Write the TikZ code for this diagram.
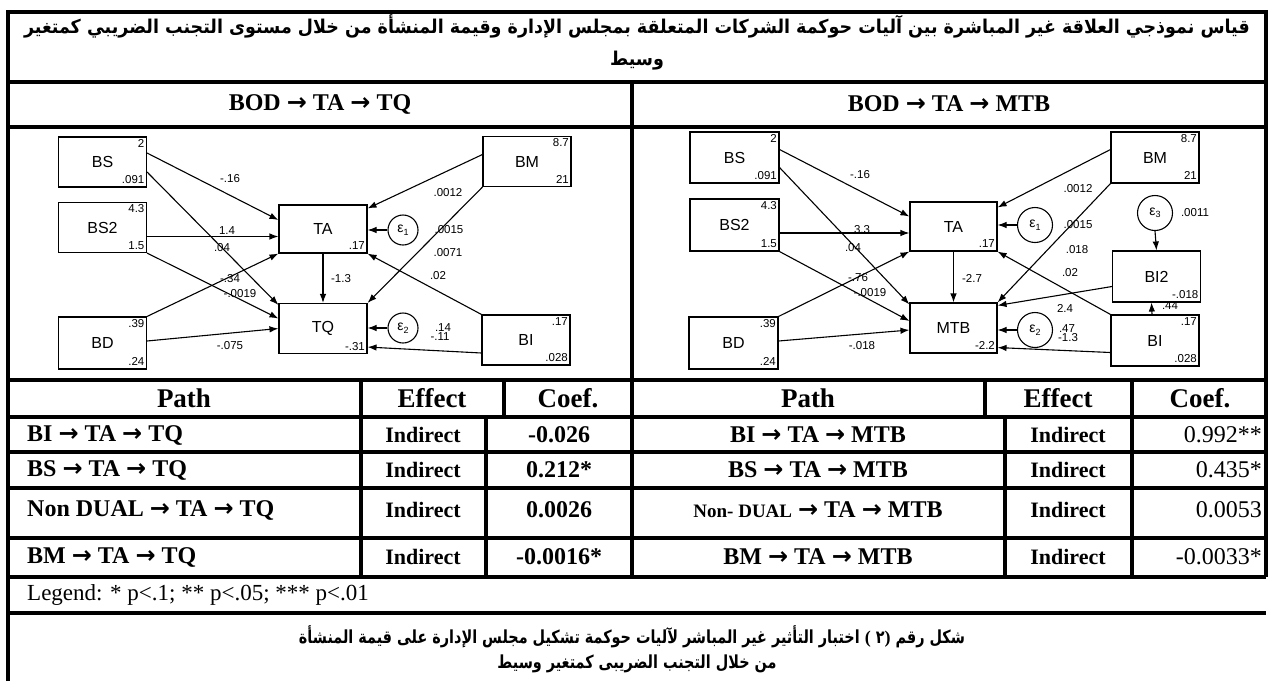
\documentclass[tikz,border=0pt]{standalone}
\usepackage{fontspec}
\setmainfont{Liberation Serif}
\newfontfamily\diafont{Liberation Sans}
\newfontfamily\arabicfont[Script=Arabic, FakeStretch=0.92]{DejaVu Sans}
\newfontfamily\capfont[Script=Arabic, FakeStretch=0.8]{DejaVu Sans}
\newfontfamily\arrowfont{DejaVu Sans}
\TeXXeTstate=1
\usetikzlibrary{arrows.meta}

% heavy arrow used in the path names
\newcommand\ra{{\arrowfont\bfseries →}}
% error term with index
\newcommand\eps[1]{ε\raisebox{-2.5pt}{\fontsize{9}{9}\selectfont #1}}
% numbers in the corners of a variable box
\newcommand\corners[3]{%
  \node[num, anchor=north east] (#1-t) at ([shift={(-2,2)}]#1.north east) {#2};
  \node[num, anchor=south east] (#1-b) at ([shift={(-2,-3)}]#1.south east) {#3};}

\begin{document}
\begin{tikzpicture}[x=1pt, y=-1pt,
    grid/.style={line width=3.5pt},
    varbox/.style={draw, line width=1.1pt, inner sep=0pt, minimum width=88pt,
      minimum height=50pt, font=\diafont\fontsize{16}{16}\selectfont},
    errc/.style={circle, draw, line width=1.1pt, inner sep=0pt,
      font=\diafont\fontsize{14}{14}\selectfont},
    num/.style={inner sep=0.5pt, font=\diafont\fontsize{11.5}{11.5}\selectfont},
    coef/.style={-{Latex[length=9pt,width=6.5pt]}, line width=1.1pt},
    cell/.style={inner sep=0pt, font=\bfseries\fontsize{24}{24}\selectfont},
    head/.style={inner sep=0pt, font=\bfseries\fontsize{27}{27}\selectfont},
    eff/.style={inner sep=0pt, font=\bfseries\fontsize{22}{22}\selectfont},
    arab/.style={inner sep=0pt, font=\arabicfont\bfseries\fontsize{19}{19}\selectfont},
    capt/.style={inner sep=0pt, font=\capfont\bfseries\fontsize{18}{18}\selectfont}]
\useasboundingbox (0,0) rectangle (1269,681);

% Table frame
\draw[grid] (8,681) -- (8,12) -- (1266,12) -- (1266,577);
\foreach \y in {82,127,380,417,452,488,538,577,613}
  \draw[grid] (8,\y) -- (1266,\y);
\draw[grid] (632,82) -- (632,577);
\draw[grid] (361,380) -- (361,577);
\draw[grid] (504,380) -- (504,417);
\draw[grid] (486,417) -- (486,577);
\draw[grid] (985,380) -- (985,417);
\draw[grid] (1005,417) -- (1005,577);
\draw[grid] (1132,380) -- (1132,577);

% Titles
\node[arab] (t1) at (637,26) {\beginR قياس نموذجي العلاقة غير المباشرة بين آليات حوكمة الشركات المتعلقة بمجلس الإدارة وقيمة المنشأة من خلال مستوى التجنب الضريبي كمتغير\endR};
\node[arab] (t2) at (637,61) {\beginR وسيط\endR};
\node[cell] (h1) at (320,104) {BOD \ra{} TA \ra{} TQ};
\node[cell] (h2) at (949,104) {BOD \ra{} TA \ra{} MTB};

% Left model
\begin{scope}[name prefix=l-]
  \node[varbox] (BS) at (102.5,162) {BS};
  \node[varbox] (BS2) at (102.5,227.5) {BS2};
  \node[varbox, minimum height=52pt] (BD) at (102.5,343) {BD};
  \node[varbox, minimum height=48pt] (TA) at (323,229) {TA};
  \node[varbox] (TQ) at (323,328.5) {TQ};
  \node[varbox] (BM) at (527,161.5) {BM};
  \node[varbox] (BI) at (526,340) {BI};
  \node[errc, minimum size=30pt] (e1) at (403,230) {\eps{1}};
  \node[errc, minimum size=30pt] (e2) at (403,328) {\eps{2}};
  \corners{BS}{2}{.091}
  \corners{BS2}{4.3}{1.5}
  \corners{BD}{.39}{.24}
  \corners{BM}{8.7}{21}
  \corners{BI}{.17}{.028}
  \node[num, anchor=south east] (TA-b) at ([shift={(-2,-3)}]TA.south east) {.17};
  \node[num, anchor=south east] (TQ-b) at ([shift={(-2,-3)}]TQ.south east) {-.31};

  \draw[coef] ([yshift=9pt]BS.east) -- ([yshift=9pt]TA.west);
  \draw[coef] ([yshift=-10pt]BS.east) -- ([yshift=-2pt]TQ.north west);
  \draw[coef] ([yshift=-9pt]BS2.east) -- ([yshift=-9pt]BS2.east -| TA.west);
  \draw[coef] (BS2.south east) -- ([yshift=10pt]TQ.west);
  \draw[coef] (BD.north east) -- (TA.south west);
  \draw[coef] ([yshift=2pt]BD.east) -- (TQ.west);
  \draw[coef] (TA.south) -- (TQ.north);
  \draw[coef] (e1.west) -- (e1.west -| TA.east);
  \draw[coef] (e2.west) -- (e2.west -| TQ.east);
  \draw[coef] ([yshift=7pt]BM.west) -- ([yshift=-4pt]TA.north east);
  \draw[coef] (BM.south west) -- (TQ.north east);
  \draw[coef] (BI.north west) -- (TA.south east);
  \draw[coef] ([yshift=-13pt]BI.west) -- ([yshift=7pt]TQ.south east);

  \foreach \nm/\x/\y/\t in {a/230/179/-.16, b/227/231/1.4, c/222/248/.04,
      d/230/279/-.34, e/240/294/-.0019, f/230/346/-.075, g/341/279/-1.3,
      h/448/193/.0012, i/449/230/.0015, j/448/253/.0071, k/438/276/.02,
      m/443/328/.14, n/440/337/-.11}
    \node[num] (lb-\nm) at (\x,\y) {\t};
\end{scope}

% Right model
\begin{scope}[name prefix=r-]
  \node[varbox, minimum width=89pt, minimum height=51pt] (BS) at (734.5,157.5) {BS};
  \node[varbox, minimum width=89pt, minimum height=52pt] (BS2) at (734.5,225) {BS2};
  \node[varbox, minimum width=89pt, minimum height=52pt] (BD) at (733.5,343) {BD};
  \node[varbox, minimum width=87pt, minimum height=49pt] (TA) at (953.5,226.5) {TA};
  \node[varbox, minimum width=87pt] (MTB) at (953.5,328) {MTB};
  \node[varbox, minimum height=51pt] (BM) at (1155,157.5) {BM};
  \node[varbox, minimum height=51pt] (BI2) at (1156.5,276.5) {BI2};
  \node[varbox, minimum height=51pt] (BI) at (1155,340.5) {BI};
  \node[errc, minimum size=35pt] (e1) at (1035,225) {\eps{1}};
  \node[errc, minimum size=35pt] (e2) at (1035,330) {\eps{2}};
  \node[errc, minimum size=35pt] (e3) at (1155,213) {\eps{3}};
  \corners{BS}{2}{.091}
  \corners{BS2}{4.3}{1.5}
  \corners{BD}{.39}{.24}
  \corners{BM}{8.7}{21}
  \corners{BI}{.17}{.028}
  \node[num, anchor=south east] (TA-b) at ([shift={(-2,-3)}]TA.south east) {.17};
  \node[num, anchor=south east] (MTB-b) at ([shift={(-2,-3)}]MTB.south east) {-2.2};
  \node[num, anchor=south east] (BI2-b) at ([shift={(-2,-3)}]BI2.south east) {-.018};

  \draw[coef] ([yshift=8pt]BS.east) -- ([yshift=10pt]TA.west);
  \draw[coef] ([yshift=-10pt]BS.east) -- ([yshift=-2pt]MTB.north west);
  \draw[coef] ([yshift=-8pt]BS2.east) -- ([yshift=-8pt]BS2.east -| TA.west);
  \draw[coef] (BS2.south east) -- ([yshift=7pt]MTB.west);
  \draw[coef] (BD.north east) -- (TA.south west);
  \draw[coef] ([yshift=2pt]BD.east) -- ([yshift=-2pt]MTB.west);
  \draw[coef] (TA.south) -- (MTB.north);
  \draw[coef] (e1.west) -- (e1.west -| TA.east);
  \draw[coef] (e2.west) -- (e2.west -| MTB.east);
  \draw[coef] (e3.south) -- (BI2.north);
  \draw[coef] ([yshift=8pt]BM.west) -- ([yshift=-6pt]TA.north east);
  \draw[coef] (BM.south west) -- (MTB.north east);
  \draw[coef] (BI.north west) -- (TA.south east);
  \draw[coef] ([yshift=-12pt]BI.west) -- ([yshift=6pt]MTB.south east);
  \draw[coef] ([yshift=-10pt]BI2.west) -- ([yshift=-3pt]MTB.north east);
  \draw[coef] ([xshift=-3pt]BI.north) -- ([xshift=-5pt]BI2.south);

  \foreach \nm/\x/\y/\t in {a/860/175/-.16, b/862/230/3.3, c/853/248/.04,
      d/858/278/-.76, e/870/293/-.0019, f/862/346/-.018, g/972/278/-2.7,
      h/1078/189/.0012, i/1078/225/.0015, j/1077/250/.018, k/1070/273/.02,
      m/1065/308/2.4, n/1067/329/.47, o/1068/338/-1.3, p/1195/213/.0011,
      q/1170/306/.44}
    \node[num] (lb-\nm) at (\x,\y) {\t};
\end{scope}

% Path tables
\node[head] (tp1) at (184,398) {Path};
\node[head] (te1) at (432,398) {Effect};
\node[head] (tc1) at (568,398) {Coef.};
\node[head] (tp2) at (808,398) {Path};
\node[head] (te2) at (1058,398) {Effect};
\node[head] (tc2) at (1200,398) {Coef.};

\foreach \i/\y/\lp/\lc/\rp/\rc in {
    1/435/{BI \ra{} TA \ra{} TQ}/-0.026/{BI \ra{} TA \ra{} MTB}/0.992**,
    2/470/{BS \ra{} TA \ra{} TQ}/0.212*/{BS \ra{} TA \ra{} MTB}/0.435*,
    3/510/{Non DUAL \ra{} TA \ra{} TQ}/0.0026/{{\fontsize{19}{19}\selectfont Non- DUAL} \ra{} TA \ra{} MTB}/0.0053,
    4/557/{BM \ra{} TA \ra{} TQ}/-0.0016*/{BM \ra{} TA \ra{} MTB}/-0.0033*} {
  \node[cell, anchor=west] (lp\i) at (27,\y) {\lp};
  \node[eff] (le\i) at (423,\y) {Indirect};
  \node[cell] (lc\i) at (559,\y) {\lc};
  \node[cell] (rp\i) at (818,\y) {\rp};
  \node[eff] (re\i) at (1068,\y) {Indirect};
  \node[cell, anchor=east, font=\fontsize{24}{24}\selectfont] (rc\i) at (1262,\y) {\rc};
}

\node[cell, anchor=west, font=\fontsize{23}{23}\selectfont] (lg) at (27,595) {Legend: * p<.1; ** p<.05; *** p<.01};

% Caption
\node[capt] (c1) at (632,637) {\beginR شكل رقم \hbox{\hbox{\rmfamily\bfseries)}\hbox{٢}\hbox{\ }\hbox{\rmfamily\bfseries(}} اختبار التأثير غير المباشر لآليات حوكمة تشكيل مجلس الإدارة على قيمة المنشأة\endR};
\node[capt] (c2) at (637,664) {\beginR من خلال التجنب الضريبى كمتغير وسيط\endR};
\end{tikzpicture}
\end{document}
